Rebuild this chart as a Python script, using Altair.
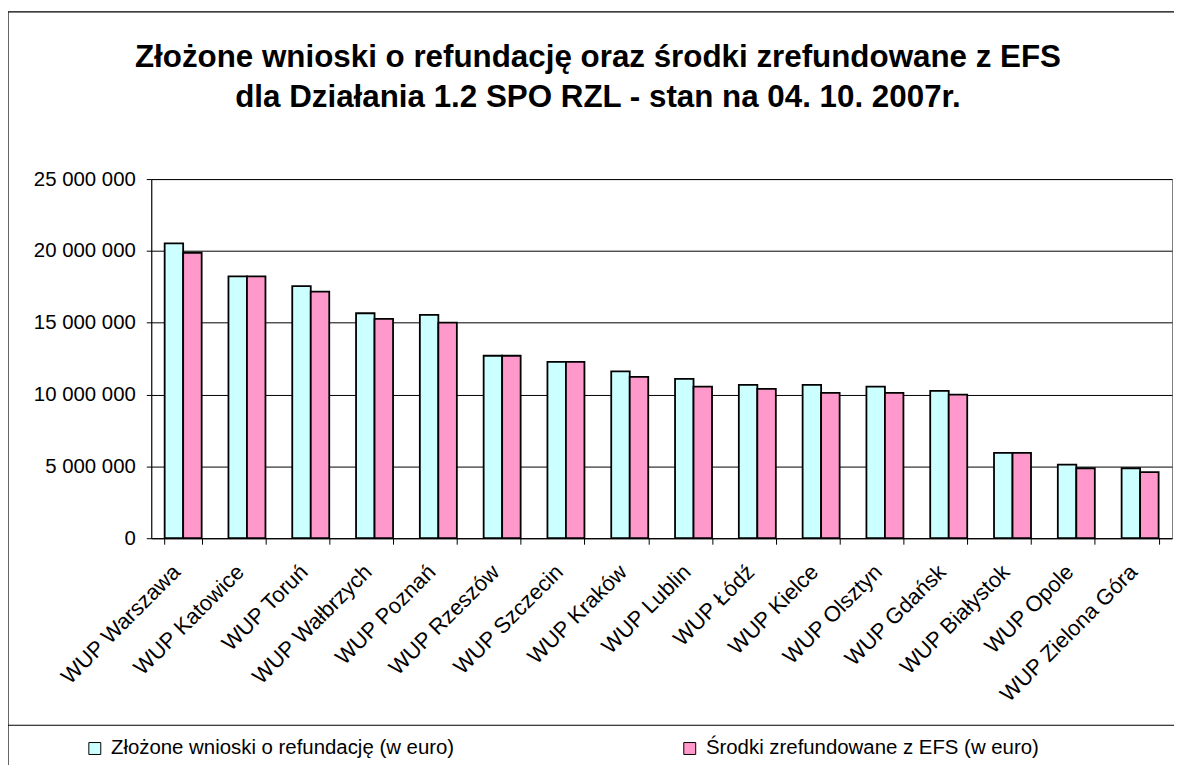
import altair as alt
import pandas as pd

categories = ["WUP Warszawa", "WUP Katowice", "WUP Toruń", "WUP Wałbrzych", "WUP Poznań",
              "WUP Rzeszów", "WUP Szczecin", "WUP Kraków", "WUP Lublin", "WUP Łódź",
              "WUP Kielce", "WUP Olsztyn", "WUP Gdańsk", "WUP Białystok", "WUP Opole",
              "WUP Zielona Góra"]
series = ["Złożone wnioski o refundację (w euro)", "Środki zrefundowane z EFS (w euro)"]
zlozone = [20530000, 18230000, 17550000, 15660000, 15540000, 12700000, 12270000, 11620000,
           11090000, 10670000, 10670000, 10550000, 10260000, 5940000, 5130000, 4870000]
srodki = [19870000, 18230000, 17160000, 15270000, 15000000, 12700000, 12270000, 11230000,
          10550000, 10400000, 10120000, 10120000, 10000000, 5940000, 4870000, 4600000]
y_ticks = [0, 5000000, 10000000, 15000000, 20000000, 25000000]
colors = ["#CCFFFF", "#FF99CC"]
title_lines = ["Złożone wnioski o refundację oraz środki zrefundowane z EFS",
               "dla Działania 1.2 SPO RZL - stan na 04. 10. 2007r."]

FONT = "Liberation Sans"

rows = []
for c, a, b in zip(categories, zlozone, srodki):
    rows.append({"category": c, "series": series[0], "value": a})
    rows.append({"category": c, "series": series[1], "value": b})
df = pd.DataFrame(rows)

one = pd.DataFrame({"t": ["\n".join(title_lines)]})

border = alt.Chart(one).mark_rect(fill=None, stroke="black", strokeWidth=1.2).encode(
    x=alt.value(-144), x2=alt.value(1100), y=alt.value(-168), y2=alt.value(900)
)
legend_line = alt.Chart(one).mark_rule(color="black", strokeWidth=1.2).encode(
    x=alt.value(-144), x2=alt.value(1100), y=alt.value(549)
)

bars = alt.Chart(df).mark_bar(stroke="black", strokeWidth=1.8).encode(
    x=alt.X("category:N", sort=categories, title=None,
            scale=alt.Scale(paddingInner=0.42, paddingOuter=0.21),
            axis=alt.Axis(labelAngle=-45, labelAlign="right", labelBaseline="middle",
                          labelFontSize=22, labelFont=FONT, labelColor="black",
                          labelPadding=24, labelOffset=-7, tickBand="extent",
                          tickSize=6, tickColor="black", domainColor="black",
                          grid=False, labelLimit=400)),
    xOffset=alt.XOffset("series:N", sort=series,
                        scale=alt.Scale(paddingInner=0, paddingOuter=0)),
    y=alt.Y("value:Q", title=None, scale=alt.Scale(domain=[0, 25000000], nice=False),
            axis=alt.Axis(values=y_ticks,
                          labelExpr="replace(format(datum.value, ','), regexp(',', 'g'), ' ')",
                          labelFontSize=20.5, labelFont=FONT, labelColor="black",
                          labelPadding=11, tickSize=5, tickColor="black",
                          domainColor="black", gridColor="#000000", gridOpacity=1)),
    color=alt.Color("series:N", sort=series,
                    scale=alt.Scale(domain=series, range=colors),
                    legend=alt.Legend(orient="none", legendX=-67, legendY=562,
                                      direction="horizontal", title=None,
                                      symbolType="square", symbolSize=144,
                                      symbolStrokeColor="black", symbolStrokeWidth=1,
                                      labelFontSize=20.5, labelFont=FONT, labelColor="black",
                                      columnPadding=226, labelOffset=6, padding=0,
                                      labelLimit=500)),
)

title_text = alt.Chart(one).mark_text(
    font=FONT, fontSize=31.5, fontWeight="bold", color="black",
    lineBreak="\n", lineHeight=41, align="center", baseline="alphabetic"
).encode(text="t:N", x=alt.value(449), y=alt.value(-113))

chart = alt.layer(border, legend_line, bars, title_text).properties(
    width=1026, height=361,
    autosize=alt.AutoSizeParams(type="none"),
    padding={"left": 144, "top": 170, "right": 2, "bottom": 226},
).configure_view(stroke="#808080", strokeWidth=1)

chart.save("out.html", embed_options={"renderer": "svg", "actions": False})
